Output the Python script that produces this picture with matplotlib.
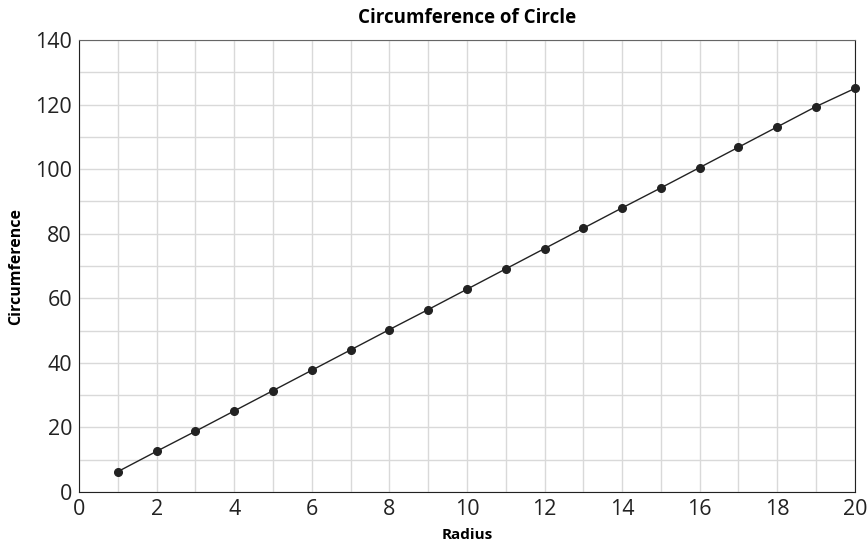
import matplotlib.pyplot as plt
from matplotlib.ticker import MultipleLocator

plt.rcParams['font.family'] = ['Open Sans', 'DejaVu Sans']

radius = [1, 2, 3, 4, 5, 6, 7, 8, 9, 10, 11, 12, 13, 14, 15, 16, 17, 18, 19, 20]
circumference = [6.3, 12.6, 18.8, 25.1, 31.4, 37.7, 44.0, 50.3, 56.5, 62.8,
                 69.1, 75.4, 81.7, 88.0, 94.2, 100.5, 106.8, 113.1, 119.4, 125.0]

fig = plt.figure(figsize=(8.67, 5.46), dpi=100)
ax = fig.add_axes([0.0911, 0.0989, 0.8949, 0.8278])

ax.plot(radius, circumference, color='#222222', lw=1, marker='o', ms=5.5,
        clip_on=False, zorder=3)

ax.set_xlim(0, 20)
ax.set_ylim(0, 140)
ax.xaxis.set_major_locator(MultipleLocator(2))
ax.xaxis.set_minor_locator(MultipleLocator(1))
ax.yaxis.set_major_locator(MultipleLocator(20))
ax.yaxis.set_minor_locator(MultipleLocator(10))
ax.grid(True, which='both', color='#d9d9d9', lw=1)
ax.set_axisbelow(True)
ax.tick_params(which='both', length=0, labelsize=15.5, labelcolor='#222222', pad=5)

for s in ['left', 'bottom', 'right']:
    ax.spines[s].set_color('#222222')
ax.spines['top'].set_color('#666666')

ax.set_title('Circumference of Circle', fontsize=13.5, fontweight='bold', pad=12)
ax.set_xlabel('Radius', fontsize=11, fontweight='bold', labelpad=6)
ax.set_ylabel('Circumference', fontsize=11.5, fontweight='bold', labelpad=8)

fig.savefig('out.png', dpi=100)
